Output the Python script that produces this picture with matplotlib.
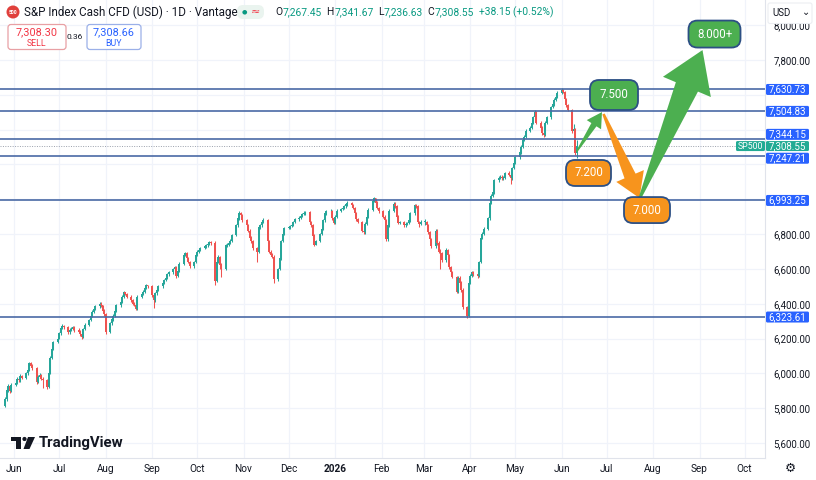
import numpy as np
import pandas as pd
import matplotlib
matplotlib.use("Agg")
import matplotlib.pyplot as plt
import matplotlib.dates as mdates
from matplotlib.patches import FancyBboxPatch, Polygon, Circle, Rectangle

# ---------------- data ----------------
start_date = "2025-05-26"
first_open = 5815
closes = [
5850,5905,5925,5900,5935, 5945,5970,5960,5985,5975, 6000,6020,6060,6045,6030,
5950,5980,5990,5970,5960, 5920,6000,6090,6140,6180, 6200,6230,6260,6270,6265,
6235,6250,6255,6265,6250, 6240,6225,6210,6255,6280, 6305,6330,6355,6370,6385,
6400,6390,6360,6340,6240, 6290,6310,6330,6360,6390, 6410,6440,6465,6455,6440,
6420,6400,6395,6370,6440, 6455,6470,6490,6505,6500, 6450,6420,6460,6480,6500,
6520,6535,6550,6570,6580, 6600,6610,6560,6590,6630, 6680,6690,6660,6640,6615,
6640,6680,6700,6710,6720, 6730,6735,6745,6755,6750, 6530,6640,6670,6620,6600,
6735,6740,6750,6760,6795, 6850,6890,6920,6910,6880, 6850,6820,6780,6760,6720,
6700,6840,6850,6870,6880, 6760,6700,6680,6670,6540, 6600,6660,6760,6800,6835,
6840,6845,6855,6870,6885, 6895,6905,6915,6920,6925, 6870,6850,6790,6740,6760,
6800,6830,6880,6920,6930, 6935,6890,6865,6900,6935, 6945,6950,6960,6970,6980,
6965,6950,6920,6885,6870, 6820,6810,6860,6900,6940, 6990,7005,6980,6950,6930,
6900,6880,6770,6850,6935, 6975,6960,6900,6865,6870, 6850,6860,6865,6880,6920,
6965,6960,6870,6860,6870, 6870,6850,6810,6770,6730, 6820,6750,6700,6690,6650,
6710,6680,6610,6580,6555, 6470,6550,6520,6480,6380, 6330,6520,6560,6580,6570,
6560,6640,6780,6800,6830, 6890,6980,7020,7040,7110, 7125,7130,7120,7125,7150,
7140,7120,7180,7210,7240, 7270,7300,7340,7360,7395, 7410,7440,7470,7500,7440,
7410,7380,7370,7440,7470, 7530,7545,7570,7590,7610, 7625,7615,7575,7540,7515,
7390,7405,7267.45,7308.55]
highs = [
5862,5915,5940,5932,5945, 5958,5980,5978,5995,5992, 6010,6030,6068,6064,6052,
6036,5988,6000,5998,5980, 5968,6008,6098,6150,6188, 6210,6240,6270,6282,6278,
6272,6258,6264,6274,6270, 6262,6250,6232,6262,6290, 6312,6338,6362,6378,6394,
6410,6408,6395,6372,6345, 6296,6320,6342,6368,6398, 6418,6448,6475,6470,6462,
6448,6430,6410,6402,6448, 6462,6478,6498,6512,6510, 6505,6458,6468,6488,6508,
6528,6542,6558,6578,6590, 6608,6618,6615,6598,6638, 6688,6698,6695,6668,6648,
6648,6688,6708,6718,6728, 6738,6745,6752,6762,6760, 6758,6648,6678,6675,6632,
6742,6750,6758,6770,6802, 6858,6898,6930,6925,6915, 6888,6858,6828,6790,6768,
6728,6848,6858,6878,6890, 6885,6768,6708,6690,6678, 6608,6668,6768,6810,6842,
6848,6855,6862,6878,6892, 6902,6912,6922,6930,6935, 6930,6878,6858,6798,6768,
6808,6838,6888,6928,6940, 6945,6940,6898,6908,6942, 6952,6958,6968,6978,6988,
6985,6972,6958,6928,6892, 6878,6828,6868,6908,6948, 6998,7012,7010,6988,6958,
6938,6908,6888,6858,6942, 6982,6982,6968,6908,6878, 6878,6868,6872,6888,6928,
6972,6975,6968,6878,6880, 6885,6878,6858,6818,6778, 6828,6828,6760,6712,6698,
6718,6715,6688,6618,6590, 6562,6558,6560,6528,6488, 6388,6528,6568,6590,6590,
6580,6648,6788,6810,6838, 6898,6988,7028,7050,7118, 7135,7140,7138,7135,7158,
7160,7148,7188,7218,7248, 7278,7310,7348,7370,7402, 7418,7448,7478,7510,7505,
7448,7418,7390,7448,7478, 7538,7555,7580,7598,7620, 7640,7632,7622,7582,7548,
7520,7430,7412,7341.67]
lows = [
5805,5840,5895,5890,5892, 5925,5938,5950,5952,5965, 5968,5990,6012,6038,6020,
5940,5942,5972,5962,5915, 5912,5915,5995,6085,6132, 6172,6195,6222,6252,6255,
6225,6228,6242,6248,6240, 6232,6215,6200,6205,6248, 6272,6298,6322,6348,6362,
6378,6382,6352,6330,6225, 6232,6280,6300,6322,6352, 6382,6402,6432,6448,6432,
6412,6392,6385,6362,6365, 6432,6448,6462,6482,6492, 6440,6378,6412,6452,6472,
6492,6512,6528,6542,6562, 6572,6592,6550,6552,6582, 6622,6672,6652,6632,6605,
6608,6632,6672,6692,6702, 6712,6722,6728,6738,6740, 6510,6525,6632,6600,6555,
6592,6725,6732,6742,6752, 6788,6842,6882,6900,6872, 6840,6810,6770,6750,6710,
6640,6692,6832,6842,6862, 6750,6692,6672,6660,6520, 6530,6592,6652,6752,6792,
6828,6832,6838,6848,6862, 6878,6888,6898,6908,6912, 6862,6842,6780,6732,6735,
6752,6792,6822,6872,6912, 6922,6882,6858,6858,6892, 6928,6938,6942,6952,6962,
6958,6942,6912,6878,6862, 6812,6800,6802,6852,6892, 6932,6982,6972,6942,6922,
6892,6872,6760,6762,6842, 6928,6952,6892,6858,6858, 6842,6842,6852,6858,6872,
6912,6952,6862,6840,6850, 6855,6842,6800,6760,6720, 6722,6740,6690,6600,6640,
6642,6672,6600,6570,6545, 6460,6462,6510,6470,6370, 6318,6322,6512,6552,6560,
6550,6552,6632,6772,6792, 6822,6882,6972,7012,7032, 7100,7115,7112,7110,7118,
7132,7090,7112,7172,7202, 7232,7262,7292,7332,7352, 7388,7402,7432,7462,7430,
7400,7372,7355,7362,7432, 7462,7522,7538,7562,7582, 7602,7608,7568,7532,7505,
7380,7375,7255,7236.63]

levels = [7630.73, 7504.83, 7344.15, 7247.21, 6993.25, 6323.61]
last_price = 7308.55
sell_price, buy_price, spread = "7,308.30", "7,308.66", "0.36"
ohlc_text = [("O", "7,267.45"), ("H", "7,341.67"), ("L", "7,236.63"), ("C", "7,308.55")]
change_text = "+38.15 (+0.52%)"
price_ticks = list(range(5600, 8001, 200))
hidden_ticks = [7000, 7200, 7400, 7600]   # covered by the level labels
month_starts = pd.date_range("2025-06-01", "2026-10-01", freq="MS")
month_labels = ["Jun", "Jul", "Aug", "Sep", "Oct", "Nov", "Dec", "2026", "Feb",
                "Mar", "Apr", "May", "Jun", "Jul", "Aug", "Sep", "Oct"]
x_start, x_end = pd.Timestamp("2025-05-22 16:00"), pd.Timestamp("2026-10-14 16:00")
y_min, y_max = 5513.9, 8144.6

# projected path (annotations): (label, date, price, kind)
callouts = [("8.000+", "2026-09-11", 7949, "g"), ("7.500", "2026-07-06", 7599, "g"),
            ("7.200", "2026-06-19", 7151, "o"), ("7.000", "2026-07-28", 6938, "o")]
arrows = [(("2026-06-11", 7272), ("2026-06-28", 7501), "g", (1.5, 6, 17, 15)),
          (("2026-06-29", 7490), ("2026-07-23", 7007), "o", (2.5, 12, 30, 24)),
          (("2026-07-23", 7002), ("2026-09-03", 7857), "g", (2.5, 24, 52, 40))]

# ---------------- figure ----------------
W, H = 816, 480
plt.rcParams["font.family"] = ["Roboto", "DejaVu Sans"]
fig = plt.figure(figsize=(W / 100, H / 100), dpi=100)
fig.patch.set_facecolor("white")
ax = fig.add_axes([0, 22 / H, 765 / W, 458 / H])
ax.set_xlim(mdates.date2num(x_start), mdates.date2num(x_end))
ax.set_ylim(y_min, y_max)

dates = pd.bdate_range(start_date, periods=len(closes))
dn = mdates.date2num(dates)
c = np.array(closes, float)
o = np.array([first_open] + closes[:-1], float)
hi = np.maximum(np.array(highs, float), np.maximum(o, c))
lo = np.minimum(np.array(lows, float), np.minimum(o, c))
up = c >= o
cols = np.where(up, "#26a69a", "#ef5350")

grid_c = "#f0f3fa"
for m in month_starts:
    ax.axvline(mdates.date2num(m), color=grid_c, lw=0.9, zorder=0)
for p in price_ticks:
    ax.axhline(p, color=grid_c, lw=0.9, zorder=0)

ax.vlines(dn, lo, hi, colors=cols, lw=0.75, zorder=2)
ax.bar(dn, np.maximum(np.abs(c - o), 2.5), bottom=np.minimum(o, c), width=1.05,
       color=cols, linewidth=0, zorder=3)

for lv in levels:
    ax.axhline(lv, color="#4a6aa5", lw=1.2, zorder=4)
ax.axhline(last_price, color="#9aa0ab", lw=0.7, ls=(0, (1, 1.5)), zorder=1)

for s in ["top", "left"]:
    ax.spines[s].set_visible(False)
ax.spines["right"].set_color("#e0e3eb")
ax.spines["bottom"].set_color("#e0e3eb")
ax.yaxis.tick_right()
ax.set_yticks(price_ticks)
ax.set_yticklabels(["" if p in hidden_ticks else f"{p:,.2f}" for p in price_ticks],
                   fontsize=7, color="#131722")
ax.tick_params(axis="y", length=0, pad=6)
ax.set_xticks(mdates.date2num(month_starts))
ax.set_xticklabels(month_labels, fontsize=7.2, color="#131722")
for t, lab in zip(ax.get_xticklabels(), month_labels):
    if lab == "2026":
        t.set_fontweight("bold")
ax.tick_params(axis="x", length=0, pad=4)

# ---------------- overlay in pixel coordinates ----------------
ov = fig.add_axes([0, 0, 1, 1], zorder=10)
ov.set_xlim(0, W)
ov.set_ylim(H, 0)
ov.axis("off")
ov.patch.set_alpha(0)
renderer = fig.canvas.get_renderer()


def px(date, price):
    d = ax.transData.transform((mdates.date2num(pd.Timestamp(date)), price))
    return ov.transData.inverted().transform(d)


def put(x, y, s, **kw):
    t = ov.text(x, y, s, va="center", ha="left", **kw)
    return x + t.get_window_extent(renderer).width


# price-axis labels
nudge = {7344.15: -5, 7247.21: 2}
for lv in levels:
    y = px(dates[0], lv)[1] + nudge.get(lv, 0)
    ov.add_patch(FancyBboxPatch((766, y - 5.5), 43, 11, boxstyle="round,pad=0,rounding_size=1.5",
                                fc="#2962ff", ec="none"))
    ov.text(787.5, y, f"{lv:,.2f}", color="white", fontsize=7, ha="center", va="center")
y = px(dates[0], last_price)[1] + 0.5
ov.add_patch(FancyBboxPatch((766, y - 5), 43, 10, boxstyle="round,pad=0,rounding_size=1.5",
                            fc="#22ab94", ec="none"))
ov.text(787.5, y, f"{last_price:,.2f}", color="white", fontsize=7, ha="center", va="center")
ov.add_patch(FancyBboxPatch((736, y - 5), 29, 10, boxstyle="round,pad=0,rounding_size=1.5",
                            fc="#22ab94", ec="none"))
ov.text(750.5, y, "SP500", color="white", fontsize=6.3, ha="center", va="center")


# arrows
def arrow_poly(S, T, w0, w1, hw, hl, color):
    S = np.array(S, float); T = np.array(T, float)
    u = (T - S) / np.linalg.norm(T - S)
    n = np.array([-u[1], u[0]])
    B = T - u * hl
    pts = [S + n * w0 / 2, B + n * w1 / 2, B + n * hw / 2, T, B - n * hw / 2,
           B - n * w1 / 2, S - n * w0 / 2]
    ov.add_patch(Polygon(pts, closed=True, fc=color, ec="none", zorder=3))


acol = {"g": "#4caf50", "o": "#f7941d"}
for (d0, p0), (d1, p1), k, (w0, w1, hw, hl) in arrows:
    arrow_poly(px(d0, p0), px(d1, p1), w0, w1, hw, hl, acol[k])

sizes = {"8.000+": (52, 27), "7.500": (48, 30), "7.200": (45, 26), "7.000": (46, 26)}
for lab, d, p, k in callouts:
    cx, cy = px(d, p)
    w, h = sizes[lab]
    ov.add_patch(FancyBboxPatch((cx - w / 2, cy - h / 2), w, h,
                                boxstyle="round,pad=0,rounding_size=9",
                                fc=acol[k], ec="#2c4f84", lw=1.3, zorder=4))
    ov.text(cx, cy, lab, color="white", fontsize=8.3, ha="center", va="center", zorder=5)

# header
ov.add_patch(Circle((13, 12), 6.5, fc="#e0403c", ec="none"))
ov.text(13, 12.3, "500", color="white", fontsize=3.6, ha="center", va="center", weight="bold")
ov.text(24, 12, "S&P Index Cash CFD (USD) · 1D · Vantage", fontsize=8.4, color="#131722",
        va="center", ha="left")
ov.add_patch(FancyBboxPatch((237, 5), 27, 14, boxstyle="round,pad=0,rounding_size=6",
                            fc="#eaf4ef", ec="none"))
ov.text(244, 12, "●", fontsize=4.5, color="#089981", ha="center", va="center")
ov.text(255, 12, "≈", fontsize=8, color="#f23645", ha="center", va="center", family="DejaVu Sans")
x = 275
for letter, val in ohlc_text:
    x = put(x, 12, letter, fontsize=7.4, color="#131722")
    x = put(x + 0.5, 12, val, fontsize=7.4, color="#089981") + 4.5
put(x, 12, change_text, fontsize=7.4, color="#089981")

ov.add_patch(FancyBboxPatch((8, 24.5), 58, 25, boxstyle="round,pad=0,rounding_size=3",
                            fc="white", ec="#e8a0a4", lw=0.9))
ov.text(37, 32.5, sell_price, fontsize=7.8, color="#f23645", ha="center", va="center")
ov.text(37, 43, "SELL", fontsize=6.3, color="#f23645", ha="center", va="center")
ov.text(74.5, 37, spread, fontsize=6, color="#131722", ha="center", va="center")
ov.add_patch(FancyBboxPatch((87, 24.5), 54, 25, boxstyle="round,pad=0,rounding_size=3",
                            fc="white", ec="#9bb0e8", lw=0.9))
ov.text(114, 32.5, buy_price, fontsize=7.8, color="#2962ff", ha="center", va="center")
ov.text(114, 43, "BUY", fontsize=6.3, color="#2962ff", ha="center", va="center")

ov.add_patch(FancyBboxPatch((768, 3), 44, 20.5, boxstyle="round,pad=0,rounding_size=2",
                            fc="white", ec="#eceef2", lw=0.8))
ov.text(772, 12.5, "USD", fontsize=7, color="#131722", ha="left", va="center")
ov.text(806, 12, "⌄", fontsize=7, color="#131722", ha="center", va="center", family="DejaVu Sans")
ov.text(790, 468, "⚙", fontsize=9, color="#131722", ha="center", va="center", family="DejaVu Sans")

# TradingView watermark
ov.add_patch(Rectangle((11, 437), 10, 4, fc="#131722", ec="none"))
ov.add_patch(Rectangle((16, 437), 5, 12, fc="#131722", ec="none"))
ov.add_patch(Circle((24.5, 439), 2.1, fc="#131722", ec="none"))
ov.add_patch(Polygon([(28, 437), (35, 437), (29.5, 449), (23.5, 449)], closed=True,
                     fc="#131722", ec="none"))
ov.text(39, 443, "TradingView", fontsize=10.8, color="#131722", weight="bold",
        ha="left", va="center")

fig.savefig("out.png", dpi=100)
